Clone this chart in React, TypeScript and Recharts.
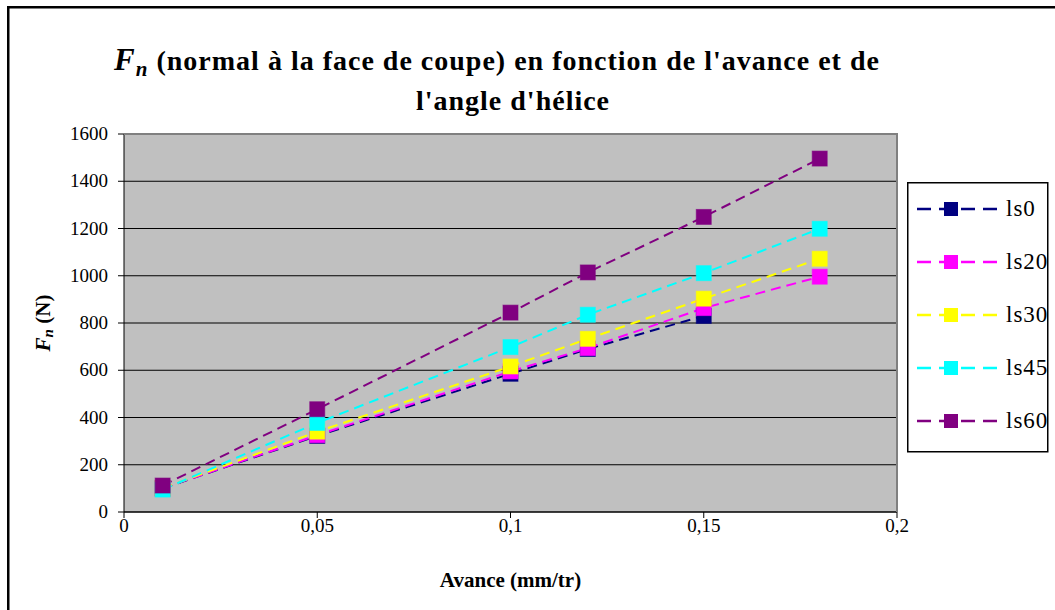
import { LineChart, Line, XAxis, YAxis, CartesianGrid } from 'recharts';

// Avance (mm/tr)
const avance = [0.01, 0.05, 0.1, 0.12, 0.15, 0.18];

// Fn (N) for each helix angle
const ls0 = [100, 322, 585, 690, 830, null];
const ls20 = [100, 325, 595, 694, 863, 996];
const ls30 = [100, 340, 616, 733, 903, 1072];
const ls45 = [95, 377, 698, 835, 1011, 1199];
const ls60 = [112, 435, 844, 1014, 1249, 1496];

const xTicks = [0, 0.05, 0.1, 0.15, 0.2];
const yTicks = [0, 200, 400, 600, 800, 1000, 1200, 1400, 1600];

const series = [
  { key: 'ls0', name: 'ls0', color: '#000080', values: ls0 },
  { key: 'ls20', name: 'ls20', color: '#FF00FF', values: ls20 },
  { key: 'ls30', name: 'ls30', color: '#FFFF00', values: ls30 },
  { key: 'ls45', name: 'ls45', color: '#00FFFF', values: ls45 },
  { key: 'ls60', name: 'ls60', color: '#800080', values: ls60 },
];

const data = avance.map((x, i) => {
  const row: Record<string, number | null> = { x };
  series.forEach(s => { row[s.key] = s.values[i]; });
  return row;
});

const serif = '"Liberation Serif", "Times New Roman", Times, serif';

const SquareDot = (props: any) => {
  const { cx, cy, stroke, value } = props;
  if (cx == null || cy == null || value == null) return null;
  return <rect x={cx - 7.5} y={cy - 7.5} width={15} height={15} fill={stroke} stroke={stroke} strokeOpacity={0.6} strokeWidth={1} />;
};

const fmt = (v: number) => String(v).replace('.', ',');

// custom ticks so the serif font is surely used
const XTick = (props: any) => {
  const { x, y, payload } = props;
  return (
    <text x={x} y={y + 12} textAnchor="middle" fontFamily={serif} fontSize={19} fill="#000">
      {fmt(payload.value)}
    </text>
  );
};

const YTick = (props: any) => {
  const { x, y, payload } = props;
  return (
    <text x={x} y={y} dy={6} textAnchor="end" fontFamily={serif} fontSize={19} fill="#000">
      {payload.value}
    </text>
  );
};

const YTitle = (props: any) => {
  const vb = props.viewBox || {};
  const cy = vb.y + vb.height / 2;
  return (
    <text x={43} y={cy} transform={`rotate(-90, 43, ${cy})`} textAnchor="middle" dominantBaseline="central"
      fontFamily={serif} fontWeight="bold" fontSize={21} fill="#000">
      <tspan fontStyle="italic">F</tspan>
      <tspan fontStyle="italic" fontSize={15} dy={5}>n</tspan>
      <tspan dy={-5}> (N)</tspan>
    </text>
  );
};

const XTitle = (props: any) => {
  const vb = props.viewBox || {};
  const cx = vb.x + vb.width / 2;
  return (
    <text x={cx} y={580} textAnchor="middle" dominantBaseline="central"
      fontFamily={serif} fontWeight="bold" fontSize={21} fill="#000">
      Avance (mm/tr)
    </text>
  );
};

// title, frame and legend drawn on an svg layer over the chart
const Overlay = () => (
  <svg width={1055} height={610} style={{ position: 'absolute', left: 0, top: 0, pointerEvents: 'none' }}>
    <path d="M8.25 700 L8.25 7.25 L1100 7.25" fill="none" stroke="#000" strokeWidth={2.5} />
    {/* grey plot frame on top and right side */}
    <path d="M124 134 L897 134 L897 512" fill="none" stroke="#808080" strokeWidth={2} />
    <g fontFamily={serif} fontWeight="bold" fill="#000">
      <text x={497} y={70} textAnchor="middle" fontSize={28} letterSpacing={1}>
        <tspan fontStyle="italic" fontSize={31}>F</tspan>
        <tspan fontStyle="italic" fontSize={21} dy={6}>n</tspan>
        <tspan dy={-6}> (normal à la face de coupe) en fonction de l'avance et de</tspan>
      </text>
      <text x={513} y={110} textAnchor="middle" fontSize={28} letterSpacing={1}>l'angle d'hélice</text>
    </g>
    <rect x={907.75} y={182.75} width={140} height={269} fill="#fff" stroke="#000" strokeWidth={1.5} />
    {series.map((s, i) => {
      const cy = 209 + i * 53;
      return (
        <g key={s.key}>
          <line x1={917} y1={cy} x2={997} y2={cy} stroke={s.color} strokeWidth={2.5} strokeDasharray="14 8" />
          <rect x={944} y={cy - 7} width={14} height={14} fill={s.color} />
          <text x={1006} y={cy + 7} fontFamily={serif} fontSize={23} letterSpacing={1} fill="#000">{s.name}</text>
        </g>
      );
    })}
  </svg>
);

export default function App() {
  return (
    <div style={{ position: 'absolute', left: 0, top: 0, width: 1055, height: 610, background: '#fff', overflow: 'hidden' }}>
      <LineChart width={1055} height={610} data={data} margin={{ top: 134, right: 158, bottom: 68, left: 0 }}>
        <CartesianGrid horizontal vertical={false} stroke="#000" strokeWidth={1} fill="#C0C0C0" />
        <XAxis dataKey="x" type="number" domain={[0, 0.2]} ticks={xTicks} height={30}
          stroke="#000" tickSize={6} tickMargin={2} interval={0}
          tick={<XTick />} label={<XTitle />} />
        <YAxis type="number" domain={[0, 1600]} ticks={yTicks} width={124} interval={0}
          stroke="#000" tickSize={6} tickMargin={10}
          tick={<YTick />} label={<YTitle />} />
        {series.map(s => (
          <Line key={s.key} dataKey={s.key} name={s.name} type="linear" stroke={s.color} strokeWidth={2}
            strokeDasharray="10 6" dot={<SquareDot />} activeDot={false} isAnimationActive={false} />
        ))}
      </LineChart>
      <Overlay />
    </div>
  );
}
